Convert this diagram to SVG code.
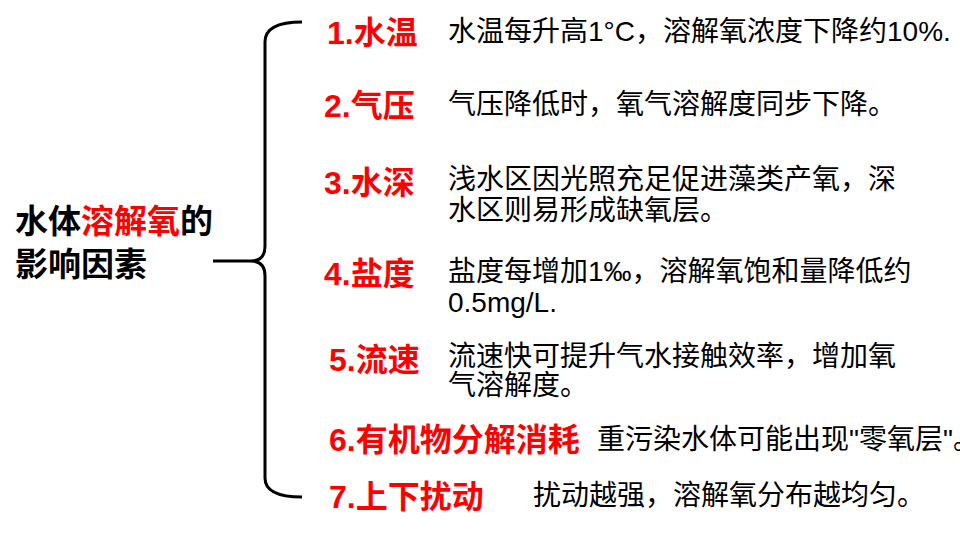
<svg xmlns="http://www.w3.org/2000/svg" width="960" height="540" viewBox="0 0 960 540">
<style>
.lab{font-family:"Liberation Sans","Noto Sans CJK SC",sans-serif;font-weight:bold;font-size:32px;fill:#FF0000}
.desc{font-family:"Liberation Sans","Noto Sans CJK SC",sans-serif;font-size:28px;fill:#000}
.title{font-family:"Liberation Sans","Noto Sans CJK SC",sans-serif;font-weight:bold;font-size:33px;fill:#000}
.red{fill:#FF0000}
</style>
<rect width="960" height="540" fill="#fff"/>
<g id="title">
<text class="title" x="15" y="233">水体<tspan class="red">溶解氧</tspan>的</text>
<text class="title" x="15" y="276">影响因素</text>
</g>
<g id="connectors">
<path d="M 302 22 Q 265 22 265 42 L 265 246 Q 265 261 251 261 L 213 261 M 251 261 Q 265 261 265 276 L 265 478 Q 265 497 302 497" fill="none" stroke="#000" stroke-width="3"/>
</g>
<g id="f1"><text class="lab" x="327" y="44">1.水温</text><text class="desc" x="448" y="41">水温每升高1°C，溶解氧浓度下降约10%.</text></g>
<g id="f2"><text class="lab" x="324" y="117">2.气压</text><text class="desc" x="448" y="114">气压降低时，氧气溶解度同步下降。</text></g>
<g id="f3"><text class="lab" x="324" y="194">3.水深</text><text class="desc" x="448" y="189">浅水区因光照充足促进藻类产氧，深</text><text class="desc" x="448" y="220">水区则易形成缺氧层。</text></g>
<g id="f4"><text class="lab" x="324" y="285">4.盐度</text><text class="desc" x="448" y="281">盐度每增加1‰，溶解氧饱和量降低约</text><text class="desc" x="448" y="312">0.5mg/L.</text></g>
<g id="f5"><text class="lab" x="329" y="371">5.流速</text><text class="desc" x="448" y="366">流速快可提升气水接触效率，增加氧</text><text class="desc" x="448" y="395">气溶解度。</text></g>
<g id="f6"><text class="lab" x="329" y="451">6.有机物分解消耗</text><text class="desc" x="597" y="449">重污染水体可能出现"零氧层"。</text></g>
<g id="f7"><text class="lab" x="329" y="508">7.上下扰动</text><text class="desc" x="533" y="505">扰动越强，溶解氧分布越均匀。</text></g>
</svg>
